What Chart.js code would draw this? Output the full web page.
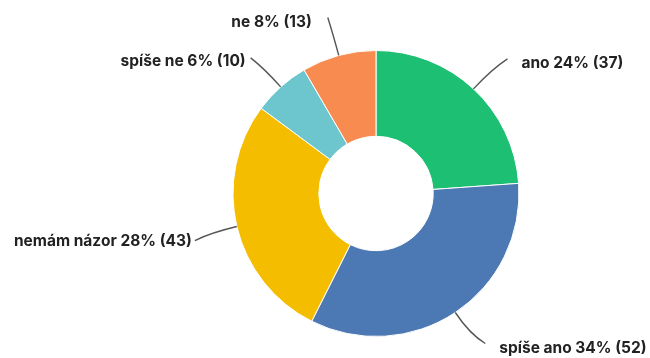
<!DOCTYPE html>
<html>
<head>
<meta charset="utf-8">
<script src="https://cdn.jsdelivr.net/npm/chart.js@4/dist/chart.umd.min.js"></script>
<style>
  html, body { margin: 0; padding: 0; background: #fff; }
  #graf { display: block; }
</style>
</head>
<body>
<canvas id="graf" width="650" height="358"></canvas>
<script>
// odpovedi a pocty
var kategorie = ['ano', 'spíše ano', 'nemám názor', 'spíše ne', 'ne'];
var pocty = [37, 52, 43, 10, 13];
var barvy = ['#1dbf72', '#4c78b3', '#f5bd00', '#6dc6cd', '#f88b50'];

// konec vodici cary (dx, dy od okraje vysece) a posun textu od konce cary
var popisky = [
    { dx: 34, dy: -30, tx: 14, ty: 4, align: 'left' },
    { dx: 30, dy: 31, tx: 14, ty: 5, align: 'left' },
    { dx: -42, dy: 14, tx: -3, ty: 1, align: 'right' },
    { dx: -30, dy: -29, tx: -5, ty: 3, align: 'right' },
    { dx: -11, dy: -38, tx: -16, ty: 5, align: 'right' }
];

window.onload = function () {

    var celkem = pocty.reduce(function (a, b) { return a + b; }, 0);

    var popiskyPlugin = {
        id: 'popisky',
        afterDraw: function (chart) {
            var ctx = chart.ctx;
            var meta = chart.getDatasetMeta(0);
            ctx.save();
            ctx.font = 'bold 15.5px Inter, "Noto Sans", sans-serif';
            ctx.textBaseline = 'middle';
            meta.data.forEach(function (arc, i) {
                var p = arc.getProps(['x', 'y', 'startAngle', 'endAngle', 'outerRadius'], true);
                var uhel = (p.startAngle + p.endAngle) / 2;
                var cx = Math.cos(uhel), cy = Math.sin(uhel);
                var sx = p.x + cx * p.outerRadius;
                var sy = p.y + cy * p.outerRadius;
                var o = popisky[i];
                var ex = sx + o.dx, ey = sy + o.dy;
                var d = Math.sqrt(o.dx * o.dx + o.dy * o.dy) * 0.6;

                ctx.strokeStyle = '#555';
                ctx.lineWidth = 1.4;
                ctx.beginPath();
                ctx.moveTo(sx, sy);
                ctx.quadraticCurveTo(sx + cx * d, sy + cy * d, ex, ey);
                ctx.stroke();

                var proc = Math.round(pocty[i] / celkem * 100);
                var text = kategorie[i] + ' ' + proc + '% (' + pocty[i] + ')';
                ctx.fillStyle = '#222';
                ctx.textAlign = o.align;
                ctx.fillText(text, ex + o.tx, ey + o.ty);
            });
            ctx.restore();
        }
    };

    var grafCtx = document.getElementById('graf');
    new Chart(grafCtx, {
        type: 'doughnut',
        data: {
            labels: kategorie,
            datasets: [{
                data: pocty,
                backgroundColor: barvy,
                borderColor: '#ffffff',
                borderWidth: 1
            }]
        },
        options: {
            responsive: false,
            animation: false,
            cutout: '40%',
            layout: { padding: { left: 200, right: 98, top: 50, bottom: 21 } },
            plugins: {
                legend: { display: false },
                tooltip: { enabled: false }
            }
        },
        plugins: [popiskyPlugin]
    });
};
</script>
</body>
</html>
